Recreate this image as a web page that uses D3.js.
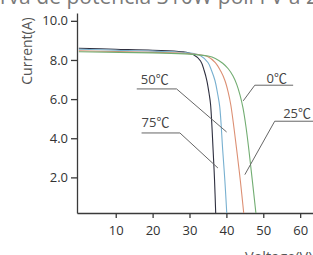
<!DOCTYPE html>
<html><head><meta charset="utf-8">
<script src="https://cdn.jsdelivr.net/npm/d3@7"></script>
<style>
html,body{margin:0;padding:0;background:#fff;overflow:hidden;}
svg{display:block;}
text{font-family:"Open Sans","Noto Sans CJK SC",sans-serif;}
</style></head>
<body>
<svg id="c" width="313" height="255"></svg>
<script>
// ---- data ----
const titleText = "Curva de potencia 310W poli I V a 25";
const yTitle = "Current(A)";
const xTitle = "Voltage(V)";
const xTicks = [10, 20, 30, 40, 50, 60];
const yTicks = [2, 4, 6, 8, 10];
const yTickLabels = ["2.0", "4.0", "6.0", "8.0", "10.0"];

const seriesNames = ["75℃", "50℃", "25℃", "0℃"];
const v75 = [0, 10, 20, 28, 31, 33, 34, 34.7, 35.3, 35.7, 36.4, 36.8, 37.1];
const i75 = [8.6, 8.55, 8.5, 8.42, 8.28, 7.95, 7.45, 6.95, 6.3, 5.75, 3.4, 1.8, 0.18];
const v50 = [0, 10, 20, 30, 33, 35, 36, 36.9, 37.6, 38.2, 39.0, 39.6, 40.1];
const i50 = [8.55, 8.5, 8.45, 8.36, 8.22, 7.87, 7.45, 6.95, 6.3, 5.6, 3.4, 1.8, 0.18];
const v25 = [0, 10, 20, 30, 35, 37, 38.5, 39.6, 40.5, 41.2, 42.8, 43.8, 44.7];
const i25 = [8.47, 8.43, 8.39, 8.32, 8.17, 7.87, 7.42, 6.95, 6.35, 5.7, 3.4, 1.8, 0.18];
const v0  = [0, 20, 30, 35, 37, 39, 40.5, 41.8, 42.8, 43.7, 44.5, 45.3, 46.1, 47.0, 48.0];
const i0  = [8.42, 8.36, 8.3, 8.2, 8.08, 7.83, 7.55, 7.18, 6.75, 6.2, 5.55, 4.6, 3.4, 1.9, 0.18];
const seriesColors = ["#2e2f3f", "#78b0d0", "#dc8f73", "#72ad72"];

// annotations in data units (label anchor + leader polyline)
const annLabels = ["50℃", "75℃", "0℃", "25℃"];
const annTextV = [16.8, 17.0, 50.9, 55.4];
const annTextI = [6.77, 4.56, 6.82, 5.03];
const annLineV = [[15.7, 26.5, 40.06], [17.0, 27.4, 37.7], [58.1, 47.7, 44.56], [64.0, 53.1, 45.0]];
const annLineI = [[6.52, 6.52, 4.32], [4.27, 4.27, 2.48], [6.71, 6.71, 5.91], [4.87, 4.87, 2.14]];

// ---- chart ----
const svg = d3.select("#c");
const x = d3.scaleLinear().domain([-0.5, 65]).range([77, 318.6]);
const y = d3.scaleLinear().domain([0.18, 10.4]).range([213, 13]);

// title (clipped at top/left like the reference)
const t = svg.append("text").attr("fill", "#7a7a7a").attr("font-size", 20).attr("y", 4).text(titleText);
const node = t.node();
const wPart = node.getSubStringLength(2, 32);
const fs = 20 * 306 / wPart;
t.attr("font-size", fs);
t.attr("x", -node.getSubStringLength(0, 2));

// axes
const xa = svg.append("g").attr("transform", `translate(0,${y(0.18)})`)
  .call(d3.axisBottom(x).tickValues(xTicks).tickSize(5).tickPadding(8).tickSizeOuter(0));
const ya = svg.append("g").attr("transform", `translate(${x(-0.5)},0)`)
  .call(d3.axisLeft(y).tickValues(yTicks).tickFormat((d, i) => yTickLabels[i]).tickSize(6).tickPadding(3).tickSizeOuter(0));
[xa, ya].forEach(g => {
  g.select(".domain").attr("stroke", "#3a3a3a").attr("stroke-width", 1.3);
  g.selectAll(".tick line").attr("stroke", "#3a3a3a").attr("stroke-width", 1.3);
  g.selectAll(".tick text").attr("fill", "#333").attr("font-size", 13).attr("font-family", '"Open Sans",sans-serif');
});

// axis titles
svg.append("text").attr("transform", `translate(31.5,51) rotate(-90)`)
  .attr("text-anchor", "middle").attr("fill", "#555").attr("font-size", 14).text(yTitle);
svg.append("text").attr("x", 245).attr("y", 262).attr("fill", "#555").attr("font-size", 14.5).text(xTitle);

// curves
const series = [[v75, i75], [v50, i50], [v25, i25], [v0, i0]];
const line = d3.line().x(d => x(d[0])).y(d => y(d[1])).curve(d3.curveCatmullRom.alpha(0.5));
series.forEach((s, k) => {
  const pts = s[0].map((v, j) => [v, s[1][j]]);
  svg.append("path").datum(pts).attr("d", line).attr("fill", "none")
    .attr("stroke", seriesColors[k]).attr("stroke-width", 1.1);
});

// annotations
annLabels.forEach((lab, k) => {
  const pts = annLineV[k].map((v, j) => [v, annLineI[k][j]]);
  svg.append("path").attr("d", d3.line().x(d => x(d[0])).y(d => y(d[1]))(pts))
    .attr("fill", "none").attr("stroke", "#666").attr("stroke-width", 1);
  svg.append("text").attr("x", x(annTextV[k])).attr("y", y(annTextI[k]))
    .attr("fill", "#444").attr("font-size", 13).text(lab);
});
</script>
</body></html>
